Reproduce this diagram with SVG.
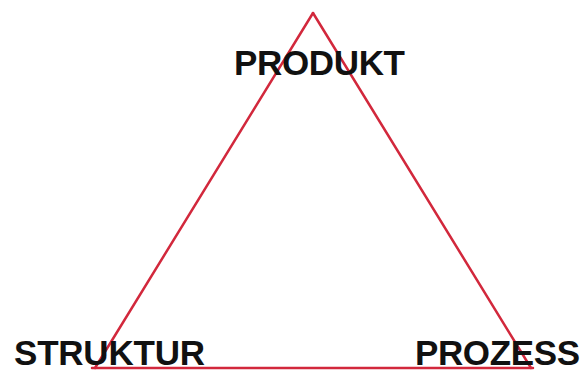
<svg xmlns="http://www.w3.org/2000/svg" width="584" height="372" viewBox="0 0 584 372">
<style>
.edge{fill:none;stroke:#d2283c;stroke-width:2.5;stroke-linecap:round}
.lbl{font-family:"Liberation Sans",Arial,sans-serif;font-weight:bold;font-size:35px;fill:#111}
</style>
<rect width="584" height="372" fill="#fff"/>
<g id="connectors">
<line class="edge" x1="313" y1="13" x2="95" y2="368"/>
<line class="edge" x1="313" y1="13" x2="531" y2="368"/>
<line class="edge" x1="92" y1="368" x2="533" y2="368"/>
</g>
<g id="produkt"><text class="lbl" x="234" y="75" textLength="171">PRODUKT</text></g>
<g id="struktur"><text class="lbl" x="14" y="365" textLength="191">STRUKTUR</text></g>
<g id="prozess"><text class="lbl" x="415" y="365" textLength="165">PROZESS</text></g>
</svg>
